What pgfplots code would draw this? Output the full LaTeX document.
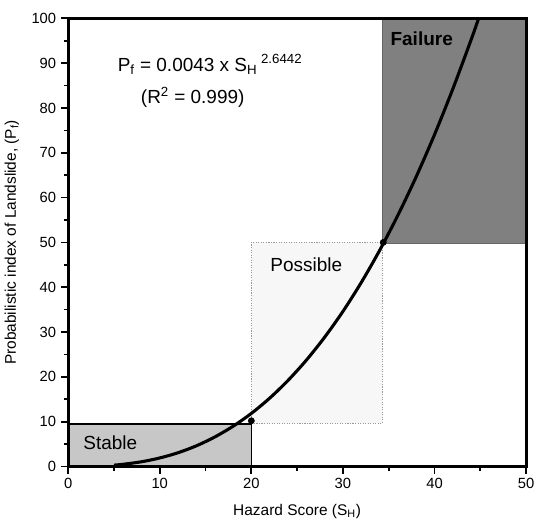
\documentclass[border=0pt]{standalone}
\usepackage{fontspec}
\setmainfont{Liberation Sans}
\usepackage{pgfplots}
\pgfplotsset{compat=1.18}

\begin{document}
\begin{tikzpicture}
\begin{axis}[
  width=326pt, height=319pt,
  scale only axis,
  xmin=0, xmax=50, ymin=0, ymax=100,
  xtick={0,10,...,50}, ytick={0,10,...,100},
  minor x tick num=1, minor y tick num=1,
  tick align=outside,
  xtick pos=bottom, ytick pos=left,
  major tick length=5pt, minor tick length=3pt,
  every tick/.style={black, line width=1.2pt},
  axis line style={line width=2pt},
  /pgf/number format/assume math mode=true,
  tick label style={font=\fontsize{10.5}{12}\selectfont},
  label style={font=\fontsize{11}{13}\selectfont},
  xlabel={Hazard Score (S\textsubscript{H})},
  ylabel={Probabilistic index of Landslide, (P\textsubscript{f})},
  xlabel style={yshift=-4pt},
  ylabel style={yshift=2pt},
  axis on top,
  clip=true,
]
% zones
\addplot[draw=black, line width=1pt, fill=black!22] coordinates {(0,0) (20,0) (20,9.5) (0,9.5) (0,0)};
\addplot[draw=black!40, densely dotted, line width=0.8pt, fill=black!3] coordinates {(20,9.6) (34.3,9.6) (34.3,50) (20,50) (20,9.6)};
\addplot[draw=black!60, line width=0.6pt, fill=black!50] coordinates {(34.3,49.8) (50,49.8) (50,100) (34.3,100) (34.3,49.8)};
% fitted curve
\addplot[black, line width=2.2pt, smooth] coordinates {
(5,0.30) (6,0.49) (8,1.05) (10,1.90) (12,3.07) (14,4.61) (16,6.57) (18,8.97)
(20,11.84) (22,15.24) (24,19.19) (26,23.71) (28,28.84) (30,34.6) (32,41.05)
(34,48.19) (36,56.06) (38,64.66) (40,74.06) (42,84.26) (44,95.25) (44.8,99.9)
};
\addplot[only marks, mark=*, mark size=2.2pt, black] coordinates {(20,10.2) (34.4,50)};
\node[font=\fontsize{13.5}{15}\selectfont] at (axis cs:15.5,89.7) {P\textsubscript{f} = 0.0043 x S\textsubscript{H}\textsuperscript{ 2.6442}};
\node[font=\fontsize{13.5}{15}\selectfont] at (axis cs:13.6,82.3) {(R\textsuperscript{2} = 0.999)};
\node[font=\fontsize{13.5}{15}\selectfont\bfseries] at (axis cs:38.6,95.5) {Failure};
\node[font=\fontsize{13.5}{15}\selectfont] at (axis cs:26,45) {Possible};
\node[font=\fontsize{13.5}{15}\selectfont] at (axis cs:4.6,5.2) {Stable};
\end{axis}
\path (current bounding box.north) ++(0,6pt) coordinate (topspace);
\path (topspace);
\end{tikzpicture}
\end{document}
